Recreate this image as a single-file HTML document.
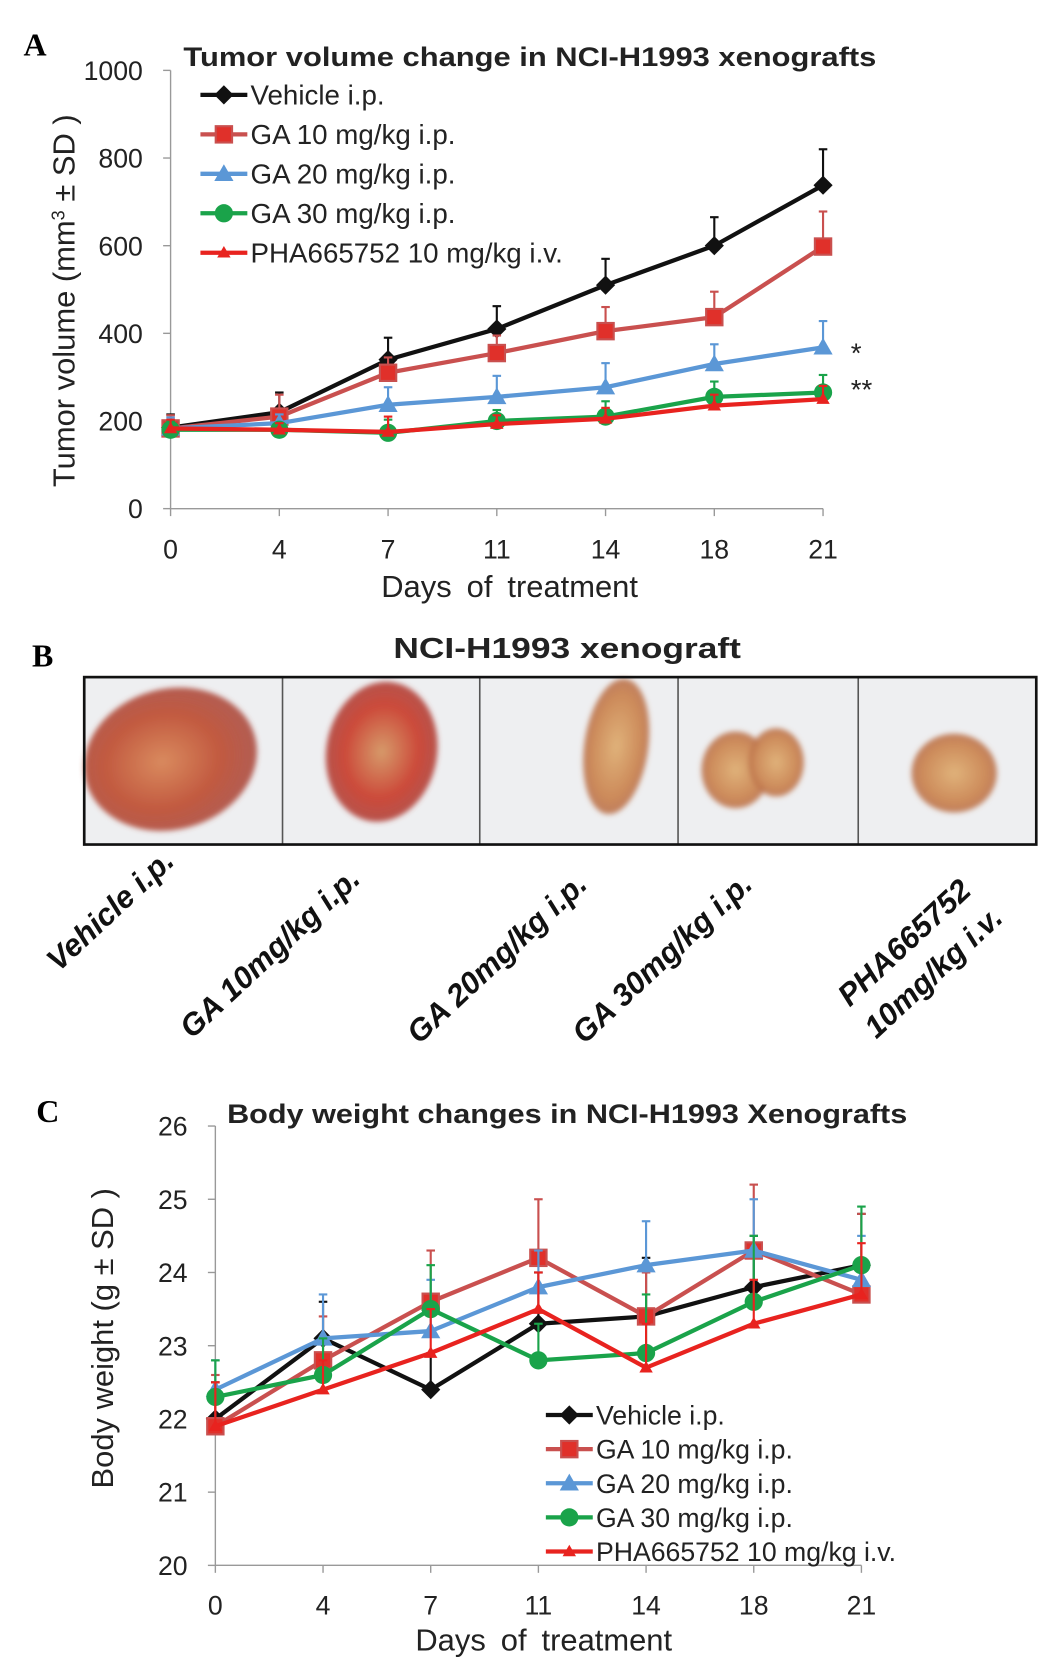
<!DOCTYPE html>
<html><head><meta charset="utf-8"><style>
body{margin:0;background:#fff}
svg{display:block;font-family:"Liberation Sans",sans-serif}
</style></head><body>
<svg id="fig" width="1048" height="1672" viewBox="0 0 983 1568" preserveAspectRatio="none" xmlns="http://www.w3.org/2000/svg">
<defs>
<radialGradient id="tg1" cx="0.45" cy="0.5" r="0.55"><stop offset="0" stop-color="#d98a5e"/><stop offset="0.6" stop-color="#c25a40"/><stop offset="1" stop-color="#a84438" stop-opacity="0.85"/></radialGradient>
<radialGradient id="tg2" cx="0.5" cy="0.5" r="0.55"><stop offset="0" stop-color="#d69a6a"/><stop offset="0.6" stop-color="#cc4a3a"/><stop offset="1" stop-color="#a83c36" stop-opacity="0.85"/></radialGradient>
<radialGradient id="tg3" cx="0.5" cy="0.5" r="0.55"><stop offset="0" stop-color="#e0b27a"/><stop offset="0.7" stop-color="#cc8a5a"/><stop offset="1" stop-color="#b0603e" stop-opacity="0.8"/></radialGradient>
<filter id="blur"><feGaussianBlur stdDeviation="2.5"/></filter>
</defs>

<text x="22" y="52" font-family="Liberation Serif" font-weight="bold" font-size="30">A</text>
<text x="30" y="625" font-family="Liberation Serif" font-weight="bold" font-size="30">B</text>
<text x="34" y="1052" font-family="Liberation Serif" font-weight="bold" font-size="30">C</text>

<text x="497" y="62" text-anchor="middle" font-weight="bold" font-size="25" fill="#222" textLength="650" lengthAdjust="spacingAndGlyphs">Tumor volume change in NCI-H1993 xenografts</text>
<text x="532" y="617" text-anchor="middle" font-weight="bold" font-size="27" fill="#222" textLength="326" lengthAdjust="spacingAndGlyphs">NCI-H1993 xenograft</text>
<text x="532" y="1053" text-anchor="middle" font-weight="bold" font-size="25" fill="#222" textLength="638" lengthAdjust="spacingAndGlyphs">Body weight changes in NCI-H1993 Xenografts</text>

<g id="chartA"></g>
<g id="photo">
 <rect x="79" y="635" width="893" height="157" fill="#eeeff1" stroke="none"/>
 <g filter="url(#blur)">
  <ellipse cx="160" cy="712" rx="82" ry="66" transform="rotate(-15 160 712)" fill="url(#tg1)"/>
  <ellipse cx="358" cy="705" rx="52" ry="66" transform="rotate(10 358 705)" fill="url(#tg2)"/>
  <ellipse cx="578" cy="700" rx="30" ry="64" transform="rotate(8 578 700)" fill="url(#tg3)"/>
  <ellipse cx="690" cy="722" rx="32" ry="36" fill="url(#tg3)"/>
  <ellipse cx="728" cy="715" rx="26" ry="32" fill="url(#tg3)"/>
  <ellipse cx="895" cy="725" rx="40" ry="37" fill="url(#tg3)"/>
 </g>
 <line x1="265" y1="635" x2="265" y2="792" stroke="#555" stroke-width="1.5"/>
 <line x1="450" y1="635" x2="450" y2="792" stroke="#555" stroke-width="1.5"/>
 <line x1="636" y1="635" x2="636" y2="792" stroke="#555" stroke-width="1.5"/>
 <line x1="805" y1="635" x2="805" y2="792" stroke="#555" stroke-width="1.5"/>
 <rect x="79" y="635" width="893" height="157" fill="none" stroke="#111" stroke-width="2.5"/>
</g>
<g font-weight="bold" font-style="italic" font-size="29" fill="#111">
 <text transform="translate(55 912) rotate(-43)">Vehicle i.p.</text>
 <text transform="translate(180 975) rotate(-43)">GA 10mg/kg i.p.</text>
 <text transform="translate(393 980) rotate(-43)">GA 20mg/kg i.p.</text>
 <text transform="translate(548 980) rotate(-43)">GA 30mg/kg i.p.</text>
 <text transform="translate(797 945) rotate(-43)">PHA665752</text>
 <text transform="translate(822 975) rotate(-43)">10mg/kg  i.v.</text>
</g>
<g id="chartC"></g>
</svg>
<script>
const days = ["0","4","7","11","14","18","21"];
const seriesNames = ["Vehicle i.p.","GA 10 mg/kg i.p.","GA 20 mg/kg i.p.","GA 30 mg/kg i.p.","PHA665752 10 mg/kg i.v."];
const colors = ["#111111","#c9504f","#5b97d6","#1aa34a","#e8231f"];
const markers = ["diamond","square","triangle","circle","smalltri"];

const volVehicle = [185,220,340,410,510,600,738];
const volGA10 = [183,210,310,355,405,437,598];
const volGA20 = [183,195,237,255,277,330,368];
const volGA30 = [180,180,173,200,210,255,265];
const volPHA = [183,180,175,193,205,235,250];
const volErrVehicle = [30,45,50,52,60,65,82];
const volErrGA10 = [30,50,35,40,55,58,80];
const volErrGA20 = [25,20,40,48,55,45,60];
const volErrGA30 = [20,15,30,25,35,35,40];
const volErrPHA = [20,15,35,20,25,25,30];
const volTicks = [0,200,400,600,800,1000];

const bwVehicle = [22.0,23.1,22.4,23.3,23.4,23.8,24.1];
const bwGA10 = [21.9,22.8,23.6,24.2,23.4,24.3,23.7];
const bwGA20 = [22.4,23.1,23.2,23.8,24.1,24.3,23.9];
const bwGA30 = [22.3,22.6,23.5,22.8,22.9,23.6,24.1];
const bwPHA = [21.9,22.4,22.9,23.5,22.7,23.3,23.7];
const bwErrVehicle = [0.5,0.5,0.5,0.7,0.8,0.7,0.7];
const bwErrGA10 = [0.7,0.6,0.7,0.8,0.6,0.9,1.1];
const bwErrGA20 = [0.4,0.6,0.7,0.5,0.6,0.7,0.6];
const bwErrGA30 = [0.5,0.5,0.6,0.5,0.8,0.9,0.8];
const bwErrPHA = [0.6,0.4,0.6,0.5,0.6,0.6,0.7];
const bwTicks = [20,21,22,23,24,25,26];

const NS="http://www.w3.org/2000/svg";
function mk(parent,tag,attrs){const e=document.createElementNS(NS,tag);for(const k in attrs)e.setAttribute(k,attrs[k]);parent.appendChild(e);return e;}
function marker(g,type,x,y,c,s){
  let e;
  if(type==="diamond") e=mk(g,"polygon",{points:`${x},${y-s} ${x+s},${y} ${x},${y+s} ${x-s},${y}`,fill:c});
  else if(type==="square") e=mk(g,"rect",{x:x-s*0.85,y:y-s*0.85,width:s*1.7,height:s*1.7,fill:"#e0302a",stroke:c,"stroke-width":2});
  else if(type==="triangle") e=mk(g,"polygon",{points:`${x},${y-s} ${x+s},${y+s*0.75} ${x-s},${y+s*0.75}`,fill:c});
  else if(type==="circle") e=mk(g,"circle",{cx:x,cy:y,r:s*0.95,fill:c});
  else e=mk(g,"polygon",{points:`${x},${y-s*0.7} ${x+s*0.7},${y+s*0.5} ${x-s*0.7},${y+s*0.5}`,fill:c});
  return e;
}
function drawChart(g,cfg){
  const xs=i=>cfg.x0+i*cfg.dx;
  const ys=v=>cfg.yb-(v-cfg.ymin)/(cfg.ymax-cfg.ymin)*(cfg.yb-cfg.yt);
  const ax=mk(g,"path",{d:`M${cfg.x0},${cfg.yt} V${cfg.yb} H${xs(days.length-1)}`,fill:"none",stroke:"#999","stroke-width":1.3});
  
  
  cfg.ticks.forEach(t=>{
    mk(g,"line",{x1:cfg.x0-7,x2:cfg.x0,y1:ys(t),y2:ys(t),stroke:"#999","stroke-width":1.3});
    const tx=mk(g,"text",{x:cfg.x0-26,y:ys(t)+9,"text-anchor":"end","font-size":cfg.fs,fill:"#222"});
    tx.textContent=t;
    
    
  });
  days.forEach((d,i)=>{
    mk(g,"line",{x1:xs(i),x2:xs(i),y1:cfg.yb,y2:cfg.yb+7,stroke:"#999","stroke-width":1.3});
    const tx=mk(g,"text",{x:xs(i),y:cfg.xly,"text-anchor":"middle","font-size":cfg.fs,fill:"#222"});
    tx.textContent=d;
    
    
  });
  const xt=mk(g,"text",{x:cfg.xtx,y:cfg.xty,"text-anchor":"middle","font-size":cfg.tfs,fill:"#222","word-spacing":6});
  xt.textContent="Days of treatment";
  
  
  const yt=mk(g,"text",{transform:`translate(${cfg.ytx} ${cfg.yty}) rotate(-90)`,"text-anchor":"middle","font-size":cfg.tfs,fill:"#222"});
  yt.innerHTML=cfg.ytitle;
  
  
  cfg.series.forEach((vals,si)=>{
    const c=colors[si];
    const sg=mk(g,"g",{});
    
    
    vals.forEach((v,i)=>{
      const e=cfg.errs[si][i];
      mk(sg,"line",{x1:xs(i),x2:xs(i),y1:ys(v),y2:ys(v+e),stroke:c,"stroke-width":2});
      mk(sg,"line",{x1:xs(i)-4,x2:xs(i)+4,y1:ys(v+e),y2:ys(v+e),stroke:c,"stroke-width":2});
    });
    const p=mk(sg,"polyline",{points:vals.map((v,i)=>xs(i)+","+ys(v)).join(" "),fill:"none",stroke:c,"stroke-width":4,"stroke-linejoin":"round"});
    
    
    vals.forEach((v,i)=>{
      const m=marker(sg,markers[si],xs(i),ys(v),c,cfg.ms);
      
      
    });
  });
  seriesNames.forEach((n,si)=>{
    const ly=cfg.ly+si*cfg.lgap;
    const lg=mk(g,"g",{});
    
    
    mk(lg,"line",{x1:cfg.lx,x2:cfg.lx+44,y1:ly,y2:ly,stroke:colors[si],"stroke-width":4});
    marker(lg,markers[si],cfg.lx+22,ly,colors[si],cfg.ms);
    const t=mk(lg,"text",{x:cfg.lx+47,y:ly+9,"font-size":cfg.lfs,fill:"#222"});
    t.textContent=n;
  });
}
drawChart(document.getElementById("chartA"),{x0:160,dx:102,yt:66,yb:477,ymin:0,ymax:1000,ticks:volTicks,fs:25,tfs:29,xly:524,xtx:478,xty:560,ytx:70,yty:282,
  ytitle:'Tumor volume (mm<tspan baseline-shift="super" font-size="17">3</tspan> ± SD )',
  series:[volVehicle,volGA10,volGA20,volGA30,volPHA],errs:[volErrVehicle,volErrGA10,volErrGA20,volErrGA30,volErrPHA],ms:9,lx:188,ly:89,lgap:37,lfs:26});
drawChart(document.getElementById("chartC"),{x0:202,dx:101,yt:1056,yb:1468,ymin:20,ymax:26,ticks:bwTicks,fs:25,tfs:29,xly:1514,xtx:510,xty:1548,ytx:106,yty:1255,
  ytitle:'Body weight  (g ± SD )',
  series:[bwVehicle,bwGA10,bwGA20,bwGA30,bwPHA],errs:[bwErrVehicle,bwErrGA10,bwErrGA20,bwErrGA30,bwErrPHA],ms:9,lx:512,ly:1327,lgap:32,lfs:25});
const A=document.getElementById("chartA");
const s1=mk(A,"text",{x:798,y:340,"font-size":26,fill:"#222"});s1.textContent="*";


const s2=mk(A,"text",{x:798,y:374,"font-size":26,fill:"#222"});s2.textContent="**";


</script>
</body></html>
